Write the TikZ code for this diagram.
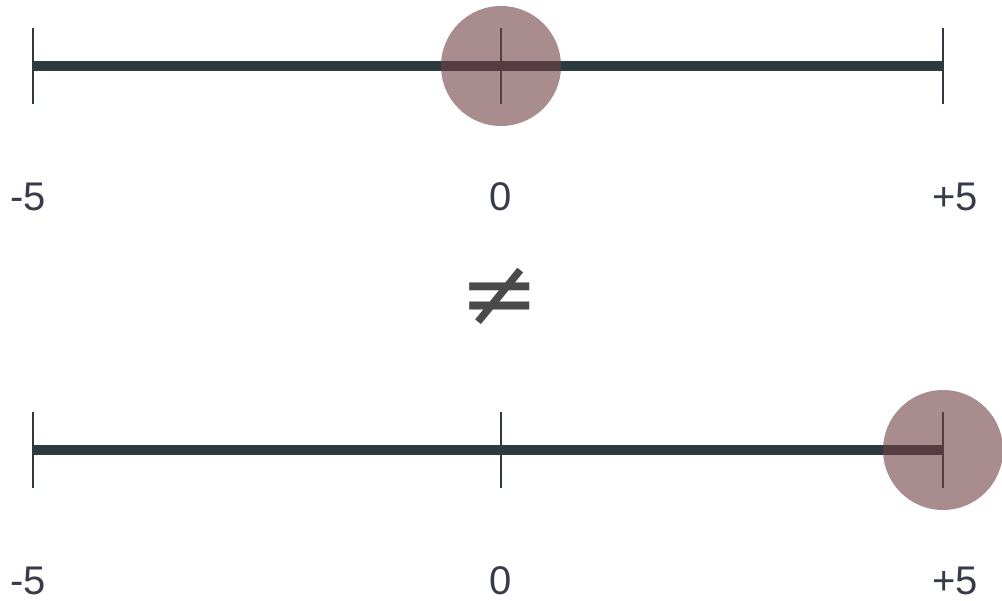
\documentclass[tikz,border=0pt]{standalone}
\usepackage{fontspec}
\setmainfont{Liberation Sans}
\newfontfamily\symfont{DejaVu Sans}
\definecolor{linec}{RGB}{45,58,64}
\definecolor{dotc}{RGB}{112,63,67}
\definecolor{txtc}{RGB}{55,60,72}
\definecolor{neqc}{RGB}{74,74,74}
\begin{document}
\begin{tikzpicture}[x=0.75pt,y=-0.75pt,
  axis/.style={draw=linec,line width=7.5pt},
  tick/.style={draw=linec,line width=1.1pt},
  dot/.style={circle,fill=dotc,fill opacity=0.6,minimum size=90pt,inner sep=0pt},
  lab/.style={text=txtc,font=\fontsize{30}{34}\selectfont,inner sep=0pt,anchor=base}]
\useasboundingbox (0,0) rectangle (1002,600);
% top line
\coordinate (a1) at (33,66);
\coordinate (b1) at (501,66);
\coordinate (c1) at (943,66);
\draw[axis] (a1) -- (c1);
\foreach \p in {a1,b1,c1} \draw[tick] ([yshift=28.5pt]\p) -- ([yshift=-28.5pt]\p);
\node[dot] (d1) at (b1) {};
\node[lab] (l1a) at (28,210) {-5};
\node[lab] (l1b) at (501,210) {0};
\node[lab] (l1c) at (955,210) {+5};
% not equal
\node[text=neqc,inner sep=0pt,font=\symfont\fontsize{72}{80}\selectfont] (neq) at (500,297) {≠};
% bottom line
\coordinate (a2) at (33,450);
\coordinate (b2) at (501,450);
\coordinate (c2) at (943,450);
\draw[axis] (a2) -- (c2);
\foreach \p in {a2,b2,c2} \draw[tick] ([yshift=28.5pt]\p) -- ([yshift=-28.5pt]\p);
\node[dot] (d2) at (c2) {};
\node[lab] (l2a) at (28,594) {-5};
\node[lab] (l2b) at (501,594) {0};
\node[lab] (l2c) at (955,594) {+5};
\end{tikzpicture}
\end{document}
